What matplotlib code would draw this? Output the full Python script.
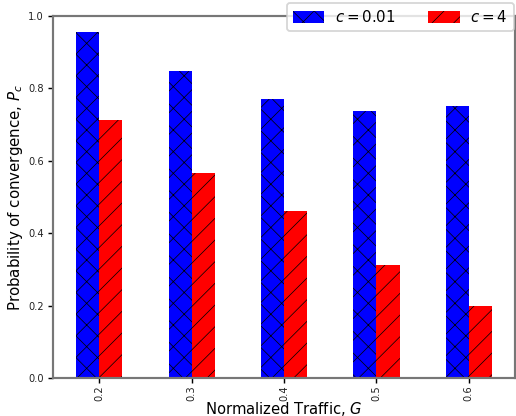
import matplotlib
matplotlib.use("Agg")
import matplotlib.pyplot as plt
import numpy as np
import pandas as pd

# normalized traffic values (x categories)
traffic = ["0.2", "0.3", "0.4", "0.5", "0.6"]
# probability of convergence for each c
pc_small = [0.955, 0.848, 0.770, 0.737, 0.751]
pc_big = [0.712, 0.565, 0.462, 0.312, 0.199]

plt.rcParams["hatch.linewidth"] = 0.4

df = pd.DataFrame({"$c = 0.01$": pc_small, "$c = 4$": pc_big}, index=traffic)

fig = plt.figure(figsize=(516 / 130, 416 / 130), dpi=130)
ax = fig.add_axes([53 / 516, 38 / 416, 462 / 516, 362 / 416])
df.plot.bar(ax=ax, color=["blue", "red"], rot=90, legend=False)

# hatch each series
hatches = ["xx", "//"]
for cont, h in zip(ax.containers, hatches):
    for bar in cont:
        bar.set_hatch(h)
        bar.set_edgecolor("black")
        bar.set_linewidth(0)

ax.set_ylim(0, 1.0)
ax.set_xlabel("Normalized Traffic, $G$", fontsize=8.2)
ax.xaxis.set_label_coords(0.5, -0.062)
ax.set_ylabel("Probability of convergence, $P_c$", fontsize=8.3)
ax.yaxis.set_label_coords(-0.061, 0.5)
ax.tick_params(labelsize=5.5, length=2.5, pad=2.5, labelcolor="#222222")
ax.tick_params(axis="x", pad=1.5)
for s in ax.spines.values():
    s.set_color("#777777")
    s.set_linewidth(1.2)

ax.legend(loc="upper right", bbox_to_anchor=(1.0, 1.04), ncol=2, fontsize=8.3,
          handlelength=2.1, handleheight=0.9, handletextpad=0.7,
          columnspacing=2.2, borderaxespad=0.1)

fig.savefig("out.png", dpi=130)
